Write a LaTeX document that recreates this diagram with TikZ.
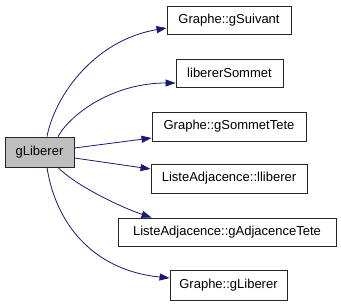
\documentclass[tikz,border=0pt]{standalone}
\usepackage{fontspec}
\setmainfont{Liberation Sans}
\usetikzlibrary{arrows.meta,calc}
\definecolor{edgeblue}{HTML}{191970}
\definecolor{curfill}{HTML}{BFBFBF}
\begin{document}
\begin{tikzpicture}[x=1pt,y=-1pt,
  fn/.style={draw=black!85,line width=0.9pt,fill=white,inner sep=0pt,
    minimum height=28pt,font=\fontsize{13}{15}\selectfont},
  cur/.style={fn,fill=curfill,minimum height=30pt},
  call/.style={draw=edgeblue,line width=0.8pt,
    -{Triangle[length=10pt,width=7pt]}}]
\useasboundingbox (0,0) rectangle (341,307);

\node[cur,minimum width=69pt] (root) at (39.5,152) {gLiberer};
\node[fn,minimum width=124pt] (suiv) at (229,20) {Graphe::gSuivant};
\node[fn,minimum width=107pt] (libs) at (229.5,73) {libererSommet};
\node[fn,minimum width=154pt,minimum height=29pt] (stete) at (229,126.5) {Graphe::gSommetTete};
\node[fn,minimum width=156pt,minimum height=29pt] (llib) at (229,178.5) {ListeAdjacence::lliberer};
\node[fn,minimum width=218pt] (atete) at (227,232) {ListeAdjacence::gAdjacenceTete};
\node[fn,minimum width=117pt,minimum height=30pt] (glib) at (228.5,285) {Graphe::gLiberer};

\draw[call] ($(root.north)+(7.5,0)$) .. controls (55,95) and (95,40) .. ($(suiv.west)+(0,8)$);
\draw[call] ($(root.north)+(18.5,0)$) .. controls (72,112) and (115,83) .. ($(libs.west)+(0,10)$);
\draw[call] ($(root.east)+(0,-4)$) -- ($(stete.west)+(0,11.5)$);
\draw[call] ($(root.east)+(0,6)$) -- ($(llib.west)+(0,-9.5)$);
\draw[call] ($(root.south)+(18.5,0)$) .. controls (75,185) and (120,207) .. ($(atete.north west)+(34,0)$);
\draw[call] ($(root.south)+(7.5,0)$) .. controls (55,220) and (90,270) .. ($(glib.west)+(0,-7)$);
\end{tikzpicture}
\end{document}
